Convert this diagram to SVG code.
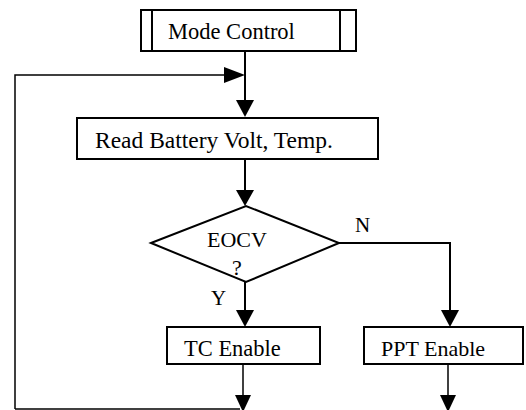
<svg xmlns="http://www.w3.org/2000/svg" width="526" height="410" viewBox="0 0 526 410">
<defs>
<style>
.box{fill:#fff;stroke:#000;stroke-width:2}
.ln{fill:none;stroke:#000;stroke-width:2}
.thin{fill:none;stroke:#000;stroke-width:1.5}
.t{font-family:"Liberation Serif","Times New Roman",serif;font-size:22px;fill:#000}
.ah{fill:#000}
</style>
</defs>
<rect width="526" height="410" fill="#fff"/>
<g id="connectors">
<path class="ln" d="M245 51V102"/>
<polygon class="ah" points="236,100 254,100 245,117"/>
<path class="thin" d="M15 409V75H226"/>
<path class="thin" d="M15 409H240"/>
<polygon class="ah" points="224,67 224,83 245,75"/>
<path class="ln" d="M245 159V192"/>
<polygon class="ah" points="236,190 254,190 245,206"/>
<path class="ln" d="M245 282V312"/>
<polygon class="ah" points="236,310 254,310 245,327"/>
<path class="ln" d="M339 243H450V312"/>
<polygon class="ah" points="441,310 459,310 450,327"/>
<path class="thin" d="M243 364V398"/>
<polygon class="ah" points="235,395 251,395 243,412"/>
<path class="thin" d="M448 364V398"/>
<polygon class="ah" points="440,395 456,395 448,412"/>
</g>
<g id="mode-control">
<rect class="box" x="141" y="10" width="215" height="41"/>
<path class="ln" d="M152 10V51M340 10V51"/>
<text class="t" x="168" y="39" style="font-size:22.5px">Mode Control</text>
</g>
<g id="read-battery">
<rect class="box" x="77" y="118" width="301" height="41"/>
<text class="t" x="95" y="148" style="font-size:23.5px">Read Battery Volt, Temp.</text>
</g>
<g id="eocv">
<polygon class="box" points="151,243 246,206 339,243 246,282"/>
<text class="t" x="207" y="247">EOCV</text>
<text class="t" x="232" y="275">?</text>
</g>
<g id="labels">
<text class="t" x="355" y="232" style="font-size:21px">N</text>
<text class="t" x="211" y="305" style="font-size:21px">Y</text>
</g>
<g id="tc-enable">
<rect class="box" x="167" y="327" width="153" height="37"/>
<text class="t" x="184" y="356" style="font-size:22.5px">TC Enable</text>
</g>
<g id="ppt-enable">
<rect class="box" x="364" y="327" width="159" height="37"/>
<text class="t" x="381" y="356" style="font-size:22px">PPT Enable</text>
</g>
</svg>
